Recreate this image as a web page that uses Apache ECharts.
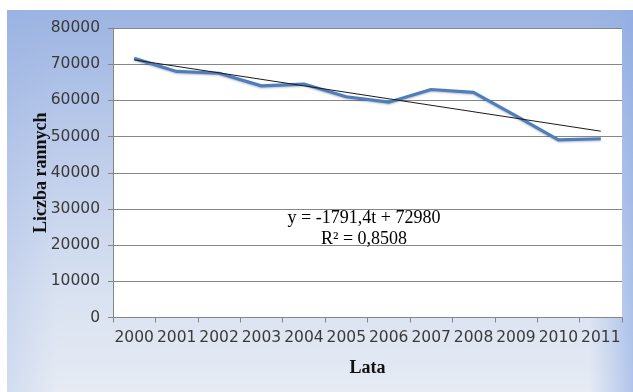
<!DOCTYPE html>
<html>
<head>
<meta charset="utf-8">
<script src="https://cdn.jsdelivr.net/npm/echarts@6/dist/echarts.min.js"></script>
<style>html,body{margin:0;padding:0;background:#fff;}#c{width:633px;height:392px;}</style>
</head>
<body>
<div id="c"></div>
<script>
var years = ['2000','2001','2002','2003','2004','2005','2006','2007','2008','2009','2010','2011'];
var injured = [71600, 68000, 67500, 64000, 64500, 61000, 59500, 63000, 62200, 55700, 49100, 49400];
var trend = [71190, null, null, null, null, null, null, null, null, null, null, 51480];
var yTicks = [0, 10000, 20000, 30000, 40000, 50000, 60000, 70000, 80000];
var equationLines = ['y = -1791,4t + 72980', 'R² = 0,8508'];
var yTitle = 'Liczba rannych';
var xTitle = 'Lata';

var chart = echarts.init(document.getElementById('c'), null, {renderer: 'canvas'});
var labelFont = {fontFamily: 'DejaVu Sans', fontSize: 15.5, color: '#3a3a3a'};
chart.setOption({
  animation: false,
  backgroundColor: '#ffffff',
  graphic: [
    {type: 'rect', z: -10, shape: {x: 7, y: 10, width: 626, height: 382},
     style: {fill: {type: 'linear', x: 0, y: 0, x2: 0, y2: 1, colorStops: [
       {offset: 0, color: '#9cb4e2'}, {offset: 0.35, color: '#bccbea'}, {offset: 0.75, color: '#d9e2f1'}, {offset: 1, color: '#e6ebf4'}]}}},
    {type: 'rect', z: -9, shape: {x: 7, y: 10, width: 626, height: 382},
     style: {fill: {type: 'linear', x: 0, y: 0, x2: 1, y2: 0, colorStops: [
       {offset: 0, color: 'rgba(150,176,226,0.25)'}, {offset: 0.08, color: 'rgba(150,176,226,0)'},
       {offset: 0.93, color: 'rgba(150,176,226,0)'}, {offset: 1, color: 'rgba(140,170,228,0.6)'}]}}},
    {type: 'text', z: 10, x: 364, y: 218,
     style: {text: equationLines[0], fill: '#000', font: '18px "Liberation Serif"', align: 'center', verticalAlign: 'middle'}},
    {type: 'text', z: 10, x: 364, y: 239,
     style: {text: equationLines[1], fill: '#000', font: '18px "Liberation Serif"', align: 'center', verticalAlign: 'middle'}}
  ],
  grid: {left: 113, right: 11, top: 28, bottom: 74.5, show: true, backgroundColor: '#ffffff', borderWidth: 0},
  xAxis: {
    type: 'category', data: years, boundaryGap: true,
    name: xTitle, nameLocation: 'middle', nameGap: 42, nameMoveOverlap: false,
    nameTextStyle: {fontFamily: 'Liberation Serif', fontWeight: 'bold', fontSize: 18, color: '#111'},
    axisLine: {lineStyle: {color: '#868686', width: 1}},
    axisTick: {show: true, length: 5, lineStyle: {color: '#868686'}},
    axisLabel: Object.assign({margin: 12, interval: 0}, labelFont),
    splitLine: {show: false}
  },
  yAxis: {
    type: 'value', min: yTicks[0], max: yTicks[yTicks.length - 1], interval: 10000,
    name: yTitle, nameLocation: 'middle', nameGap: 63, nameRotate: 90, nameMoveOverlap: false,
    nameTextStyle: {fontFamily: 'Liberation Serif', fontWeight: 'bold', fontSize: 18, color: '#111'},
    axisLine: {show: true, lineStyle: {color: '#868686', width: 1}},
    axisTick: {show: true, length: 5, lineStyle: {color: '#868686'}},
    axisLabel: Object.assign({margin: 13, formatter: function (v) { return String(v); }}, labelFont),
    splitLine: {show: true, lineStyle: {color: '#868686', width: 1}}
  },
  series: [
    {type: 'line', data: injured, symbol: 'none', z: 3,
     lineStyle: {color: '#4d7fbf', width: 3.2, shadowColor: 'rgba(0,0,0,0.25)', shadowBlur: 2, shadowOffsetY: 1}},
    {type: 'line', data: trend, connectNulls: true, symbol: 'none', z: 4,
     lineStyle: {color: '#1a1a1a', width: 1}}
  ]
});
</script>
</body>
</html>
